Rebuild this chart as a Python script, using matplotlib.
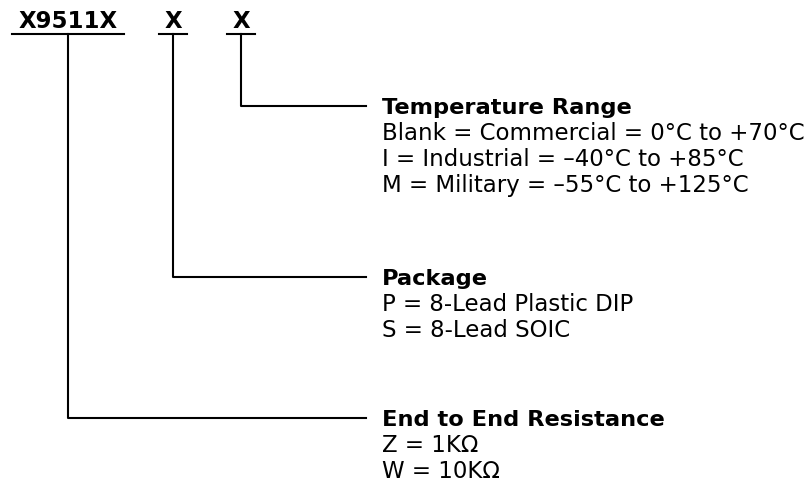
import matplotlib.pyplot as plt

# part number fields, left to right
field_labels = ['X9511X', 'X', 'X']
field_x = [68, 173, 241]
field_half_width = [56, 14, 14]

# option groups, one per field
group_titles = ['End to End Resistance', 'Package', 'Temperature Range']
group_options = [
    ['Z = 1K\u2126', 'W = 10K\u2126'],
    ['P = 8-Lead Plastic DIP', 'S = 8-Lead SOIC'],
    ['Blank = Commercial = 0\u00b0C to +70\u00b0C',
     'I = Industrial = \u201340\u00b0C to +85\u00b0C',
     'M = Military = \u201355\u00b0C to +125\u00b0C'],
]
group_y = [418, 277, 106]

plt.rcParams['font.family'] = ['DejaVu Sans']

fig = plt.figure(figsize=(8.1, 5), dpi=100)
ax = fig.add_axes([0, 0, 1, 1])
ax.set_xlim(0, 810)
ax.set_ylim(500, 0)
ax.axis('off')

lw = 1.5
line_y = 34
text_x = 382
line_end = 366
row_gap = 26

for lab, x, hw in zip(field_labels, field_x, field_half_width):
    ax.text(x, 28, lab, ha='center', va='baseline', fontsize=16.5, fontweight='bold')
    ax.plot([x - hw, x + hw], [line_y, line_y], color='black', lw=lw)

for i, (title, opts, gy) in enumerate(zip(group_titles, group_options, group_y)):
    x = field_x[i]
    ax.plot([x, x, line_end], [line_y, gy, gy], color='black', lw=lw)
    ax.text(text_x, gy + 8, title, ha='left', va='baseline', fontsize=16.2, fontweight='bold')
    for j, opt in enumerate(opts):
        ax.text(text_x, gy + 8 + row_gap * (j + 1), opt, ha='left', va='baseline', fontsize=16.5)

fig.savefig('out.png', dpi=100)
